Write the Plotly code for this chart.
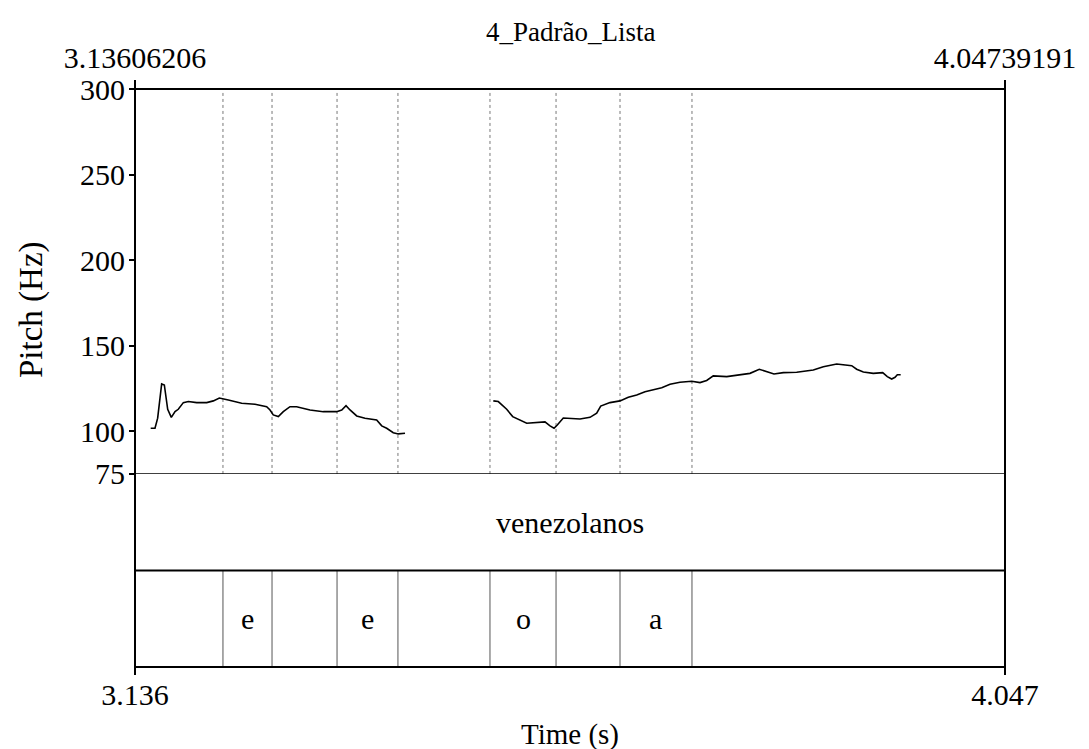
import plotly.graph_objects as go

# ---------------- data ----------------
TITLE = "4_Padrão_Lista"
T_START = 3.13606206
T_END = 4.04739191

seg1_time = [3.1525, 3.1570, 3.1598, 3.1640, 3.1668, 3.1703, 3.1741, 3.1780, 3.1814, 3.1867,
             3.1919, 3.2007, 3.2112, 3.2181, 3.2244, 3.2286, 3.2338, 3.2478, 3.2618, 3.2740,
             3.2775, 3.2809, 3.2862, 3.2914, 3.2984, 3.3054, 3.3194, 3.3333, 3.3473, 3.3526,
             3.3571, 3.3613, 3.3683, 3.3770, 3.3892, 3.3945, 3.3997, 3.4066, 3.4119, 3.4189]
seg1_hz = [101.7, 101.7, 107.6, 127.6, 127.0, 112.8, 108.1, 111.4, 112.8, 116.7,
           117.3, 116.7, 116.7, 117.7, 119.4, 119.0, 118.2, 116.3, 115.7, 114.3,
           112.4, 109.5, 108.5, 111.4, 114.3, 114.3, 112.4, 111.4, 111.4, 112.4,
           114.9, 112.4, 108.9, 107.6, 106.6, 103.1, 101.7, 99.1, 98.4, 98.8]

seg2_time = [3.5114, 3.5166, 3.5254, 3.5317, 3.5464, 3.5655, 3.5708, 3.5750, 3.5784, 3.5847,
             3.6022, 3.6127, 3.6197, 3.6239, 3.6336, 3.6441, 3.6528, 3.6616, 3.6703, 3.6790,
             3.6878, 3.6965, 3.7069, 3.7192, 3.7279, 3.7349, 3.7418, 3.7559, 3.7698, 3.7803,
             3.7900, 3.7978, 3.8054, 3.8152, 3.8292, 3.8466, 3.8571, 3.8711, 3.8868, 3.8920,
             3.8990, 3.9094, 3.9193, 3.9241, 3.9287, 3.9322, 3.9346, 3.9381]
seg2_hz = [117.7, 117.3, 112.8, 108.5, 104.6, 105.4, 103.1, 101.7, 103.6, 107.7,
           107.1, 108.1, 110.5, 114.7, 116.7, 117.7, 119.8, 121.2, 123.1, 124.1,
           125.4, 127.4, 128.6, 129.2, 128.4, 129.6, 132.3, 131.9, 132.9, 133.8,
           136.2, 134.8, 133.4, 134.2, 134.4, 135.8, 137.7, 139.3, 138.3, 136.2,
           134.6, 133.8, 134.2, 131.9, 130.5, 131.5, 133.0, 133.0]

pitch_ticks = [75, 100, 150, 200, 250, 300]
PITCH_MIN, PITCH_MAX = 75, 300

bottom_tick_text = ["3.136", "4.047"]
top_tick_text = ["3.13606206", "4.04739191"]

word_start = [T_START]
word_end = [T_END]
word_text = ["venezolanos"]

phone_start = [T_START, 3.2282, 3.2796, 3.3477, 3.4115, 3.5079, 3.5771, 3.6441, 3.7195]
phone_end = [3.2282, 3.2796, 3.3477, 3.4115, 3.5079, 3.5771, 3.6441, 3.7195, T_END]
phone_text = ["", "e", "", "e", "", "o", "", "a", ""]

# ---------------- style ----------------
FONT = "Liberation Serif"
FS = 30
FS_TITLE = 27
PITCH_DOMAIN = [0.334, 1.0]
TIER_DOMAIN = [0.0, 0.334]

fig = go.Figure()

fig.add_trace(go.Scatter(x=seg1_time, y=seg1_hz, mode="lines",
                         line=dict(color="black", width=1.6), xaxis="x", yaxis="y",
                         showlegend=False, hoverinfo="skip"))
fig.add_trace(go.Scatter(x=seg2_time, y=seg2_hz, mode="lines",
                         line=dict(color="black", width=1.6), xaxis="x", yaxis="y",
                         showlegend=False, hoverinfo="skip"))
# invisible trace to carry the top axis
fig.add_trace(go.Scatter(x=[T_START, T_END], y=[PITCH_MIN, PITCH_MIN], mode="none",
                         xaxis="x2", yaxis="y", showlegend=False, hoverinfo="skip"))

shapes = []
inner_bounds = phone_start[1:]
for b in inner_bounds:
    shapes.append(dict(type="line", xref="x", yref="y", x0=b, x1=b, y0=PITCH_MIN, y1=PITCH_MAX,
                       line=dict(color="#777777", width=1, dash="dot"), layer="below"))
    shapes.append(dict(type="line", xref="x", yref="y2", x0=b, x1=b, y0=0, y1=1,
                       line=dict(color="#555555", width=1)))
shapes.append(dict(type="line", xref="paper", yref="y", x0=0, x1=1, y0=PITCH_MIN, y1=PITCH_MIN,
                   line=dict(color="black", width=1.5)))
shapes.append(dict(type="line", xref="paper", yref="y2", x0=0, x1=1, y0=1, y1=1,
                   line=dict(color="black", width=2)))
shapes.append(dict(type="rect", xref="paper", yref="paper", x0=0, x1=1, y0=0, y1=1,
                   line=dict(color="black", width=2)))

annotations = []
for s, e, txt in zip(word_start, word_end, word_text):
    annotations.append(dict(x=(s + e) / 2, y=1.5, xref="x", yref="y2", text=txt,
                            showarrow=False, font=dict(family=FONT, size=FS, color="black")))
for s, e, txt in zip(phone_start, phone_end, phone_text):
    if txt:
        annotations.append(dict(x=(s + e) / 2, y=0.5, xref="x", yref="y2", text=txt,
                                showarrow=False, font=dict(family=FONT, size=FS, color="black")))
annotations.append(dict(x=0.5, y=-0.116, xref="paper", yref="paper", text="Time (s)",
                        showarrow=False, yanchor="middle",
                        font=dict(family=FONT, size=FS - 1, color="black")))
annotations.append(dict(x=(31 - 135) / 870, y=(667 - 310) / 578, xref="paper", yref="paper",
                        text="Pitch (Hz)",
                        showarrow=False, textangle=-90, xanchor="center", yanchor="middle",
                        font=dict(family=FONT, size=33, color="black")))
annotations.append(dict(x=0.5, y=1 + (89 - 32) / 578, xref="paper", yref="paper", text=TITLE,
                        showarrow=False, xanchor="center", yanchor="middle",
                        font=dict(family=FONT, size=FS_TITLE, color="black")))

fig.update_layout(
    width=1089, height=749,
    margin=dict(l=135, r=84, t=89, b=82),
    paper_bgcolor="white", plot_bgcolor="white",
    font=dict(family=FONT, size=FS, color="black"),
    xaxis=dict(range=[T_START, T_END], domain=[0, 1], anchor="y2",
               tickvals=[T_START, T_END], ticktext=bottom_tick_text,
               ticks="outside", ticklen=7, tickwidth=2, tickcolor="black",
               ticklabelstandoff=-6,
               showgrid=False, zeroline=False, showline=False),
    xaxis2=dict(range=[T_START, T_END], overlaying="x", side="top", anchor="y",
                tickvals=[T_START, T_END], ticktext=top_tick_text,
                ticks="outside", ticklen=8, tickwidth=2, tickcolor="black",
                ticklabelstandoff=0,
                showgrid=False, zeroline=False, showline=False),
    yaxis=dict(range=[PITCH_MIN, PITCH_MAX], domain=PITCH_DOMAIN, anchor="x",
               tickvals=pitch_ticks, ticktext=[str(v) for v in pitch_ticks],
               ticks="outside", ticklen=5, tickwidth=2, tickcolor="black",
               ticklabelstandoff=-2,
               showgrid=False, zeroline=False, showline=False),
    yaxis2=dict(range=[0, 2], domain=TIER_DOMAIN, anchor="x",
                showticklabels=False, ticks="", showgrid=False, zeroline=False,
                showline=False),
    shapes=shapes,
    annotations=annotations,
)

fig.write_html("out.html")
